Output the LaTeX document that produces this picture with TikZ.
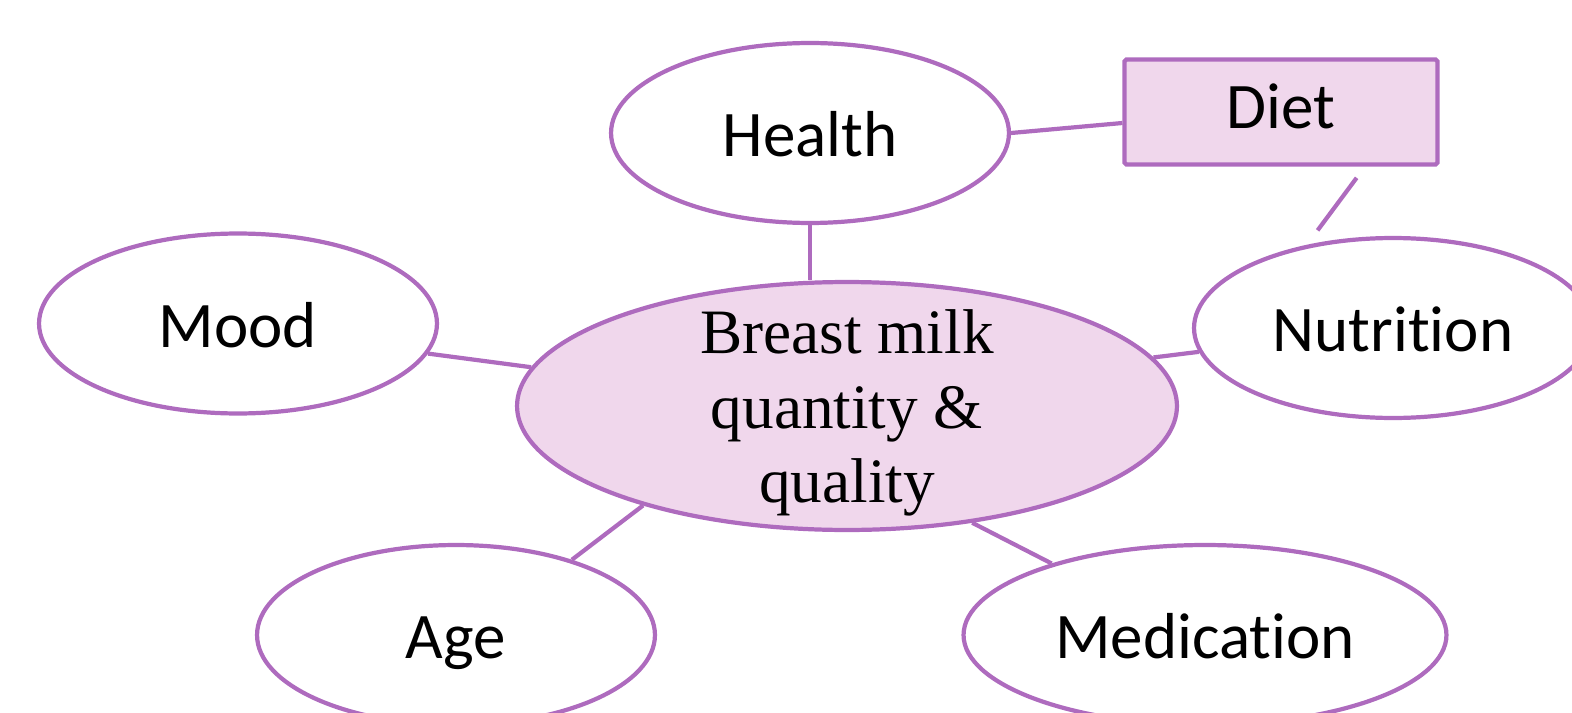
\documentclass[tikz,border=0pt]{standalone}
\usepackage{fontspec}
\setmainfont{Carlito}[Ligatures={NoCommon,NoDiscretionary},RawFeature={-liga}]
\newfontfamily\milkfont{Liberation Serif}
\usetikzlibrary{shapes.geometric}
\definecolor{orchidline}{HTML}{AE6BBE}
\definecolor{orchidfill}{HTML}{F0D7EC}

\begin{document}
\begin{tikzpicture}[x=0.02cm,y=-0.02cm,
  oval/.style={ellipse,draw=orchidline,line width=2.4pt,inner sep=0pt,minimum width=7.96cm,minimum height=3.6cm,font=\fontsize{37}{45}\selectfont,text height=27pt,text depth=0pt},
  link/.style={draw=orchidline,line width=2.4pt}]
\useasboundingbox (0,0) rectangle (1572,713);
\node[oval,fill=orchidfill,minimum width=13.2cm,minimum height=4.96cm] (milk) at (847,406) {};
\node[align=center,font=\milkfont\fontsize{36}{42.5}\selectfont] (milktext) at (847,413) {Breast milk\\quantity \&\\quality};
\node[oval] (health) at (810,133) {Health};
\node[rectangle,draw=orchidline,fill=orchidfill,line width=2.4pt,rounded corners=1pt,minimum width=6.26cm,minimum height=2.1cm,font=\fontsize{37}{45}\selectfont,text height=27pt,text depth=8pt] (diet) at (1281,112) {Diet};
\node[oval] (mood) at (238,323.5) {Mood};
\node[oval] (nutri) at (1393,328) {Nutrition};
\node[oval] (age) at (456,635) {Age};
\node[oval,minimum width=9.66cm] (med) at (1205,635) {Medication};
\draw[link] (health.south) -- (health.south |- milk.north);
\draw[link] (health.east) -- ([yshift=-0.22cm]diet.west);
\draw[link,shorten <=0.36cm,shorten >=0.28cm] (nutri.136) -- ([xshift=1.68cm]diet.south);
\draw[link] (mood.-9) -- (milk.173);
\draw[link] (milk.9) -- (nutri.187);
\draw[link] (age.33) -- (milk.206);
\draw[link] (milk.-43) -- (med.155);
\end{tikzpicture}
\end{document}
